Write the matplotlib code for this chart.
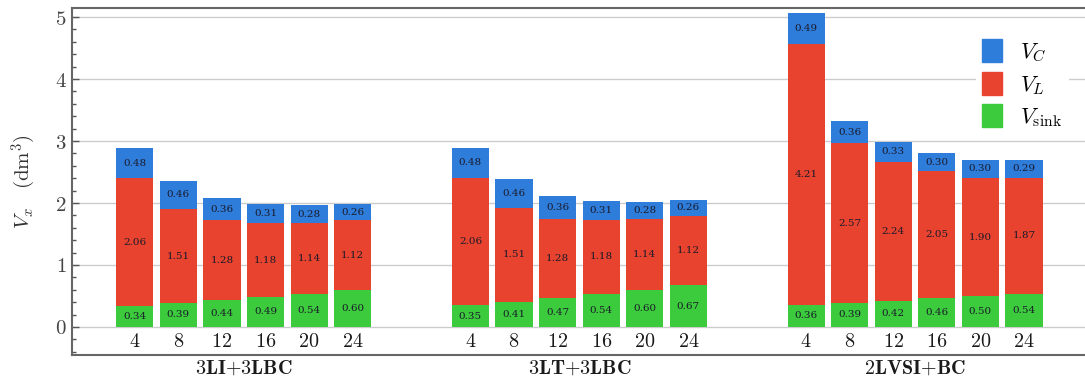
import matplotlib
matplotlib.use("Agg")
import matplotlib.pyplot as plt
import numpy as np
from matplotlib.patches import Patch
from matplotlib.ticker import MultipleLocator

plt.rcParams['mathtext.fontset'] = 'cm'
plt.rcParams['font.family'] = 'serif'
plt.rcParams['font.serif'] = ['DejaVu Serif']

groups = ['3LI+3LBC', '3LT+3LBC', '2LVSI+BC']
sizes = ['4', '8', '12', '16', '20', '24']

v_sink = [[0.34, 0.39, 0.44, 0.49, 0.54, 0.60],
          [0.35, 0.41, 0.47, 0.54, 0.60, 0.67],
          [0.36, 0.39, 0.42, 0.46, 0.50, 0.54]]
v_l = [[2.06, 1.51, 1.28, 1.18, 1.14, 1.12],
       [2.06, 1.51, 1.28, 1.18, 1.14, 1.12],
       [4.21, 2.57, 2.24, 2.05, 1.90, 1.87]]
v_c = [[0.48, 0.46, 0.36, 0.31, 0.28, 0.26],
       [0.48, 0.46, 0.36, 0.31, 0.28, 0.26],
       [0.49, 0.36, 0.33, 0.30, 0.30, 0.29]]

c_blue = '#2f7ddb'
c_red = '#e8432f'
c_green = '#3ccb3c'

group_gap = 7.7
width = 0.85

fig = plt.figure(figsize=(10.85, 3.87), dpi=100)
ax = fig.add_axes([0.066, 0.083, 0.934, 0.897])

for g in range(len(groups)):
    x = g * group_gap + np.arange(len(sizes))
    s = np.array(v_sink[g])
    l = np.array(v_l[g])
    c = np.array(v_c[g])
    ax.bar(x, s, width, color=c_green, zorder=2)
    ax.bar(x, l, width, bottom=s, color=c_red, zorder=2)
    ax.bar(x, c, width, bottom=s + l, color=c_blue, zorder=2)
    for i in range(len(x)):
        for val, base in [(s[i], 0), (l[i], s[i]), (c[i], s[i] + l[i])]:
            ax.text(x[i], base + val / 2, '%.2f' % val, ha='center', va='center',
                    fontsize=7.5, color='#1a1a2a', zorder=3)
        ax.text(x[i], -0.23, r'$\mathbf{%s}$' % sizes[i], ha='center', va='center',
                fontsize=14.5, color='#1a1a1a')
    ax.text(x.mean(), -0.67, r'$\mathbf{%s}$' % groups[g].replace('+', '{+}'),
            ha='center', va='center', fontsize=14.5, color='#1a1a1a')

ax.set_xlim(-1.45, 21.8)
ax.set_ylim(-0.45, 5.15)
ax.set_xticks([])
ax.yaxis.set_major_locator(MultipleLocator(1))
ax.yaxis.set_minor_locator(MultipleLocator(0.2))
ax.tick_params(axis='y', direction='in', length=5, width=1, colors='#555555',
               labelsize=15, labelcolor='#444444', which='major')
ax.tick_params(axis='y', direction='in', length=3, width=1, colors='#555555', which='minor')
ax.set_yticks(range(6))
ax.set_yticklabels([r'$%d$' % v for v in range(6)])
ax.grid(axis='y', color='#cccccc', linewidth=1, zorder=0)
for sp in ax.spines.values():
    sp.set_color('#666666')
    sp.set_linewidth(1.5)
ax.spines['right'].set_visible(False)

ax.set_ylabel(r'$V_x\quad(\mathrm{dm}^3)$', fontsize=15, color='#333333', labelpad=12)

handles = [Patch(color=c_blue), Patch(color=c_red), Patch(color=c_green)]
leg = ax.legend(handles, [r'$V_C$', r'$V_L$', r'$V_{\rm sink}$'], loc='upper right',
                bbox_to_anchor=(0.995, 0.96), fontsize=16, frameon=True,
                handlelength=0.9, handleheight=1.2, handletextpad=0.8,
                labelspacing=0.35, borderpad=0.3)
leg.get_frame().set_edgecolor('none')
leg.get_frame().set_facecolor('white')
leg.get_frame().set_alpha(1)

fig.savefig('out.png', dpi=100)
